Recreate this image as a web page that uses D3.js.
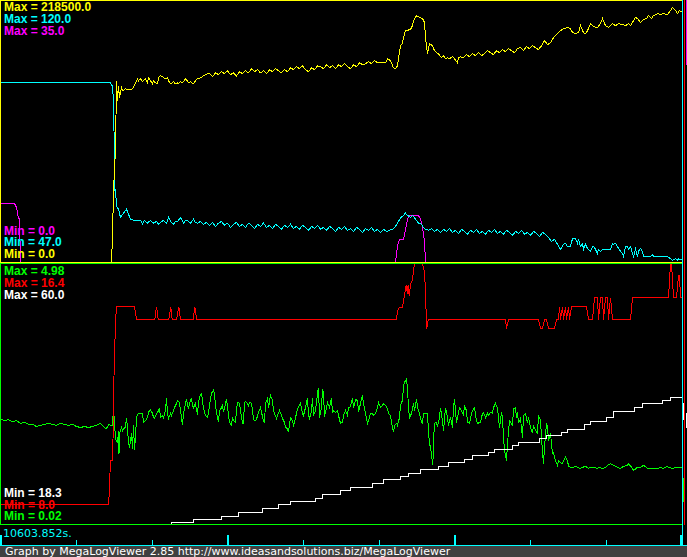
<!DOCTYPE html>
<html><head><meta charset="utf-8">
<script src="https://cdn.jsdelivr.net/npm/d3@7/dist/d3.min.js"></script>
<style>html,body{margin:0;padding:0;background:#000;overflow:hidden}svg{display:block}</style>
</head><body>
<svg id="c" width="687" height="557"></svg>
<script>
// ---------- DATA (time in s, value in channel units) ----------
const timeSpan = [0, 68.2];
const startTimeLabel = "10603.852s.";
const footerText = "Graph by MegaLogViewer 2.85 http://www.ideasandsolutions.biz/MegaLogViewer";
const tickTimes = [0, 7.57, 15.13, 22.7, 30.27, 37.83, 45.4, 52.97, 60.53, 68.1];

const yellowRange = [0, 218500];
const cyanRange = [47, 120];
const magentaRange = [0, 35];
const greenRange = [0.02, 4.98];
const redRange = [8.0, 16.4];
const whiteRange = [18.3, 60.0];

const yellowData = [
[0,0],[11.1,0],[11.2,21900],[11.3,59700],[11.5,95000],[11.6,152100],[11.7,135300],[11.8,147900],[11.9,137800],[12.1,146200],[12.2,143700],[12.5,145400],[12.7,144500],[12.9,144500],[13.2,145400],[13.3,147100],[13.5,150400],[13.7,153800],[13.8,152100],[14.0,153800],[14.2,151300],[14.3,152100],[14.5,153800],[14.7,150400],[14.8,154600],[15.0,152100],[15.2,149600],[15.3,152100],[15.5,150400],[15.7,149600],[15.8,154600],[16.0,156300],[16.2,155500],[16.3,154600],[16.5,153800],[16.7,154600],[16.8,152100],[17.0,149600],[17.2,150400],[17.3,151300],[17.5,149600],[17.7,150400],[17.8,149600],[18.0,151300],[18.2,150400],[18.5,153800],[18.7,152100],[18.8,150400],[19.0,151300],[19.3,149600],[19.5,152100],[19.7,153800],[20.0,154600],[20.3,156300],[20.7,158000],[20.9,158000],
[21.2,155500],[21.5,158800],[21.8,157200],[22.1,159700],[22.4,158000],[22.7,160500],[23.0,157200],[23.3,158800],[23.6,156300],[23.9,159700],[24.2,158000],[24.5,160500],[24.8,158800],[25.1,162200],[25.4,159700],[25.7,161400],[26.0,158800],[26.3,160500],[26.6,158000],[26.9,161400],[27.2,159700],[27.5,162200],[27.8,160500],[28.1,158800],[28.4,161400],[28.7,159700],[29.0,163000],[29.3,161400],[29.6,163900],[29.9,162200],[30.2,164700],[30.5,161400],[30.8,159700],[31.1,163000],[31.4,161400],[31.7,164700],[32.0,163900],[32.3,162200],[32.6,165600],[32.9,163000],[33.2,164700],[33.5,162200],[33.8,165600],[34.1,163900],[34.4,166400],[34.7,163900],[35.0,162200],[35.3,165600],[35.6,163900],[35.9,167200],[36.2,165600],[36.5,166400],[36.8,168100],[37.1,166400],[37.4,168900],[37.7,167200],[38.0,167200],
[38.5,167200],[38.7,170600],[39.0,168900],[39.3,163000],[39.5,162200],[39.7,164700],[39.8,170600],[40.0,181500],[40.2,183200],[40.3,188300],[40.5,194100],[41.0,195000],[41.2,198300],[41.3,202500],[41.6,206700],[41.9,205100],[42.2,204200],[42.4,200900],[42.5,188300],[42.6,181500],[42.7,174800],[42.9,183200],[43.2,181500],[43.4,177300],[43.6,175600],[43.8,174800],[44.1,171400],[44.3,173100],[44.5,170600],[44.7,171400],[44.9,170600],[45.2,172300],[45.4,170600],[45.7,167200],[45.8,171400],[46.0,172300],
[46.3,171400],[46.6,174000],[46.9,172300],[47.2,174800],[47.5,173100],[47.8,175600],[48.1,173100],[48.4,174800],[48.7,177300],[49.0,175600],[49.3,174000],[49.6,177300],[49.9,175600],[50.2,178200],[50.5,176500],[50.8,179000],[51.1,177300],[51.4,175600],[51.7,179000],[52.0,179900],[52.3,177300],[52.6,180700],[52.9,179000],[53.2,181500],[53.5,179900],[53.8,178200],[54.1,181500],[54.4,185700],[54.7,182400],[55.0,184100],[55.3,188300],[55.6,190800],[55.9,193300],
[56.0,194100],[56.3,195800],[56.7,196700],[57.0,195800],[57.2,192500],[57.5,191600],[57.8,192500],[58.0,198300],[58.3,192500],[58.5,191600],[58.7,194100],[59.0,200000],[59.3,197500],[59.7,196700],[60.0,200000],[60.2,204200],[60.5,198300],[60.8,196700],[61.2,200000],[61.5,198300],[61.8,200000],[62.2,199200],[62.5,198300],[62.8,200000],[63.0,198300],[63.3,202500],[63.5,205100],[63.7,204200],[64.0,200900],[64.3,203400],[64.6,204200],[64.8,206700],[65.1,204200],[65.3,206700],[65.7,208400],[66.0,207600],[66.3,208400],[66.7,207600],[67.0,210900],[67.2,213500],[67.5,210900],[67.7,208400],[67.9,210900],[68.2,209300]
];

const cyanData = [
[0,97.3],[11.0,97.3],[11.1,96.7],[11.2,96.4],[11.3,92.2],[11.35,83.8],[11.4,78.2],[11.45,66.9],[11.5,67.5],[11.6,62.7],[11.8,61.9],[12.0,59.6],[12.3,60.8],[12.6,61.9],[12.8,60.5],[13.0,59.1],[13.3,58.8],[14.0,58.8],[14.2,57.7],[14.4,58.8],[14.7,58.0],[15.0,58.8],[15.3,58.0],[15.6,58.5],[15.8,57.7],[16.0,58.2],[16.3,58.8],[16.6,58.0],[16.8,59.6],[17.1,58.2],[17.3,57.7],[17.5,58.5],[17.7,58.5],[18.0,59.6],[18.3,58.0],[18.5,58.8],[18.7,58.8],[19.0,58.0],[19.3,59.1],[19.5,58.2],[19.7,58.0],
[20.0,58.5],[20.3,57.7],[20.6,58.2],[20.9,57.4],[21.2,58.2],[21.5,57.1],[21.8,58.0],[22.1,58.5],[22.4,57.4],[22.7,58.0],[23.0,56.8],[23.3,57.7],[23.6,58.2],[23.9,57.1],[24.2,57.7],[24.5,56.8],[24.8,58.0],[25.1,57.4],[25.4,56.5],[25.7,57.7],[26.0,57.1],[26.3,58.0],[26.6,56.8],[26.9,57.4],[27.2,56.5],[27.5,57.7],[27.8,57.1],[28.1,56.3],[28.4,57.4],[28.7,56.8],[29.0,57.7],[29.3,56.5],[29.6,57.1],[29.9,56.3],[30.2,57.4],[30.5,56.8],[30.8,56.0],[31.1,57.1],[31.4,56.5],[31.7,57.4],[32.0,56.3],[32.3,56.8],[32.6,56.0],[32.9,57.1],[33.2,56.5],[33.5,55.7],[33.8,56.8],[34.1,56.3],[34.4,57.1],[34.7,56.0],[35.0,56.5],[35.3,55.7],[35.6,56.8],[35.9,56.3],[36.2,55.4],[36.5,56.5],[36.8,56.0],[37.1,56.8],[37.4,55.7],[37.7,56.3],[38.0,55.4],[38.3,56.3],[38.6,55.7],[38.9,56.0],
[39.2,56.3],[39.5,57.1],[39.8,58.5],[40.0,59.4],[40.3,60.2],[40.5,60.8],[40.7,60.2],[41.0,59.6],[41.2,60.2],[41.5,59.1],[41.8,58.0],[42.0,58.0],[42.3,56.8],[42.5,56.3],[42.8,56.0],
[43.1,56.5],[43.4,55.7],[43.7,56.3],[44.0,55.4],[44.3,56.3],[44.6,55.7],[44.9,56.5],[45.2,55.4],[45.5,56.0],[45.8,55.1],[46.1,56.3],[46.4,55.7],[46.7,54.9],[47.0,56.0],[47.3,55.4],[47.6,56.3],[47.9,55.1],[48.2,55.7],[48.5,54.9],[48.8,56.0],[49.1,55.4],[49.4,56.3],[49.7,55.1],[50.0,55.7],[50.3,54.9],[50.6,56.0],[50.9,55.4],[51.2,54.6],[51.5,55.7],[51.8,55.1],[52.1,56.0],[52.4,54.9],[52.7,55.4],[53.0,54.6],[53.3,55.7],[53.6,55.1],[53.9,54.3],[54.2,55.4],[54.5,54.9],[54.8,54.0],[55.1,52.9],[55.4,53.5],[55.7,52.1],
[56.0,50.7],[56.3,52.1],[56.5,52.3],[56.7,51.5],[57.0,51.5],[57.2,53.7],[57.5,53.7],[57.7,52.3],[57.8,53.5],[58.0,51.5],[58.2,52.3],[58.3,50.7],[58.5,52.1],[58.7,50.9],[59.0,50.1],[59.2,51.5],[59.3,51.5],[59.5,50.7],[59.7,49.5],[59.8,50.7],[60.0,50.1],[60.2,50.7],[61.0,50.7],[61.2,52.3],[61.3,52.1],[61.5,52.3],[61.7,51.5],[61.8,50.9],[62.2,49.5],[62.3,48.7],[62.5,51.5],[62.7,51.5],[62.8,50.7],[63.0,51.5],[63.2,49.5],[63.3,48.7],[63.5,50.7],[63.7,48.7],[63.8,50.1],[64.0,50.9],[64.2,50.1],[64.3,48.7],[65.0,48.7],[65.2,49.2],[65.3,48.7],[66.7,48.7],[67.2,47.6],[67.3,47.8],[67.5,48.1],[67.7,47.6],[67.8,48.1],[68.0,47.8],[68.2,48.1]
];

const magentaData = [
[0,7.9],[1.4,7.9],[1.6,7.4],[1.8,5.9],[1.9,5.9],[2.0,0],[39.5,0],[39.7,2.2],[39.9,3.1],[40.3,3.1],[40.5,4.4],[40.7,5.8],[40.9,6.3],[41.8,6.3],[42.0,5.8],[42.2,4.8],[42.4,2.8],[42.5,0],[68.2,0]
];

const greenData = [
[0,2.04],[0.4,2.00],[0.8,2.02],[1.2,1.98],[1.6,2.00],[2.0,1.95],[2.4,1.97],[2.8,1.93],[3.2,1.93],[3.6,1.89],[4.0,1.91],[4.4,1.93],[4.8,1.95],[5.2,1.93],[5.6,1.91],[6.0,1.95],[6.4,1.93],[6.8,1.91],[7.2,1.93],[7.6,1.89],[8.0,1.87],[8.4,1.89],[8.8,1.87],[9.2,1.89],[9.6,1.91],[10.0,1.95],[10.3,1.89],[10.5,1.85],[10.7,1.87],[10.8,1.93],[11.0,1.91],[11.2,1.91],
[11.3,2.25],[11.5,1.66],[11.7,1.57],[11.8,1.81],[11.85,1.37],[11.9,1.76],[12.1,1.87],[12.2,1.81],[12.3,1.85],[12.5,1.87],[12.6,2.06],[12.7,1.87],[12.8,1.57],[12.9,1.49],[13.1,1.76],[13.2,1.47],[13.3,1.91],[13.4,1.45],[13.5,1.68],[13.6,2.06],[13.7,2.12],[13.9,2.14],[14.2,2.14],[14.3,1.97],[14.5,2.00],[14.7,2.06],[14.8,2.16],[15.0,2.21],[15.2,2.14],[15.3,2.06],[15.4,2.04],[15.6,2.14],[15.7,2.16],[15.9,2.23],[16.0,2.06],[16.2,2.10],[16.3,2.06],[16.5,2.19],[16.6,2.44],[16.7,2.14],[16.8,2.04],[17.0,2.14],[17.1,2.10],[17.3,2.19],[17.4,2.25],[17.6,2.33],[17.7,2.39],[17.9,2.35],[18.0,2.19],[18.1,2.06],[18.2,1.91],[18.3,2.14],[18.5,2.33],[18.6,2.42],[18.7,2.29],[18.8,2.25],[19.0,2.39],[19.1,2.42],[19.2,2.29],[19.3,2.25],[19.5,2.33],[19.6,2.18],[19.7,2.14],[19.8,2.33],[19.9,2.46],[20.1,2.52],[20.2,2.39],[20.3,2.23],[20.5,2.10],[20.7,2.06],[20.8,2.14],[20.9,2.29],[21.1,2.52],[21.3,2.58],[21.4,2.52],[21.5,2.29],[21.7,2.06],[21.8,1.97],[21.9,2.19],[22.1,2.25],[22.2,2.29],[22.3,2.16],[22.5,2.33],[22.6,2.42],[22.7,2.25],[22.9,1.97],[23.1,1.91],[23.2,2.06],[23.3,2.00],[23.5,1.97],[23.6,2.19],[23.7,2.35],[23.9,2.33],[24.0,2.18],[24.2,1.95],[24.3,1.95],[24.4,2.35],[24.5,2.37],[24.7,2.33],[24.8,2.29],[24.9,2.35],[25.1,2.33],[25.2,2.19],[25.3,2.02],[25.5,2.00],[25.7,2.08],[25.8,2.16],[26.0,2.25],[26.1,2.16],[26.3,2.00],[26.4,1.97],[26.5,2.33],[26.7,2.42],[26.8,2.25],[27.0,2.48],[27.2,2.39],[27.3,2.19],[27.4,2.14],[27.6,2.04],[27.7,2.10],[27.9,2.19],[28.1,2.10],[28.3,2.00],[28.4,1.97],[28.5,1.87],[28.7,1.85],[28.8,1.78],[29.0,2.06],[29.2,2.00],[29.3,1.91],[29.4,1.97],[29.6,2.14],[29.7,2.23],[29.9,2.29],[30.0,2.33],
[30.2,2.14],[30.3,2.10],[30.5,2.25],[30.7,2.44],[30.8,2.10],[30.9,2.04],[31.1,2.19],[31.2,2.44],[31.3,2.10],[31.5,2.19],[31.7,2.52],[31.8,2.63],[31.9,2.06],[32.1,2.25],[32.2,2.61],[32.3,2.52],[32.4,2.08],[32.6,2.25],[32.7,2.35],[32.9,2.25],[33.1,2.44],[33.2,2.14],[33.3,2.19],[33.5,2.16],[33.7,2.19],[33.8,2.10],[34.0,1.95],[34.2,1.97],[34.3,2.10],[34.5,2.19],[34.7,2.10],[34.8,2.25],[35.0,2.27],[35.2,2.44],[35.3,2.25],[35.5,2.40],[35.7,2.39],[35.8,2.16],[36.0,2.33],[36.2,2.48],[36.3,2.33],[36.5,2.14],[36.7,1.95],[36.8,2.00],[37.0,2.14],[37.2,2.14],[37.3,2.10],[37.5,2.14],[37.7,2.25],[37.8,2.35],[38.0,2.25],[38.2,2.29],[38.3,2.33],[38.5,2.29],[38.7,2.23],[38.8,2.14],[39.0,2.10],[39.2,1.87],[39.3,1.78],[39.4,1.91],[39.6,1.95],[39.7,1.91],[39.9,2.06],[40.0,2.29],[40.2,2.39],[40.3,2.67],[40.4,2.73],[40.6,2.79],[40.7,2.61],[40.8,2.25],[40.9,2.06],[41.1,2.14],[41.3,2.33],[41.4,2.19],[41.6,2.42],[41.7,2.25],[41.9,2.14],[42.1,1.97],[42.2,1.95],[42.3,2.14],[42.5,2.14],[42.7,2.14],[42.8,1.78],[42.9,1.58],[43.1,1.37],[43.2,1.16],[43.3,1.37],[43.35,1.78],[43.4,1.95],[43.6,1.97],[43.7,1.89],[43.9,2.06],[44.0,2.25],[44.2,2.00],[44.3,1.81],[44.5,2.25],[44.7,2.06],[44.8,1.91],[45.0,2.06],[45.2,1.87],[45.3,2.25],[45.4,2.42],[45.6,1.95],[45.7,2.06],[45.9,2.25],[46.1,2.19],[46.3,2.10],[46.4,2.29],[46.6,2.19],[46.7,1.97],[46.9,1.95],[47.1,2.14],[47.3,2.23],[47.4,2.25],[47.6,2.00],[47.7,1.95],[48.0,1.97],
[48.2,2.14],[48.3,2.16],[48.5,2.06],[48.7,2.14],[48.8,2.10],[49.0,2.16],[49.2,2.14],[49.3,2.25],[49.5,2.33],[49.7,2.23],[49.8,2.06],[49.9,1.87],[50.1,2.16],[50.2,2.06],[50.3,1.68],[50.4,1.43],[50.6,1.24],[50.7,1.57],[50.9,2.00],[51.0,1.97],[51.2,1.91],[51.3,2.23],[51.5,2.25],[51.6,2.06],[51.7,2.16],[51.8,1.95],[52.0,2.04],[52.2,1.68],[52.3,2.10],[52.5,2.14],[52.7,1.95],[52.8,2.06],[53.0,1.87],[53.2,1.76],[53.3,1.91],[53.5,1.81],[53.7,1.76],[53.8,2.10],[54.0,2.00],[54.2,1.39],[54.3,1.18],[54.4,1.49],[54.6,1.95],[54.7,1.87],[54.8,1.62],[55.0,1.76],[55.2,1.37],[55.3,1.39],[55.5,1.24],[55.7,1.15],[55.8,1.24],[56.0,1.20],[56.2,1.18],[56.3,1.24],[56.5,1.30],[56.7,1.24],[56.8,1.13],[57.0,1.11],[57.3,1.11],[57.5,1.13],[57.7,1.11],[58.0,1.09],[58.2,1.11],[58.5,1.13],[58.8,1.09],[59.0,1.11],[59.3,1.11],[59.7,1.09],[59.8,1.11],[60.2,1.09],[60.5,1.11],[60.8,1.16],[61.0,1.18],[61.3,1.15],[61.7,1.11],[62.0,1.09],[62.3,1.13],[62.7,1.15],[62.8,1.18],[63.2,1.09],[63.3,1.05],[63.7,1.11],[64.0,1.11],[64.3,1.15],[64.7,1.09],[65.0,1.09],[65.7,1.09],[66.0,1.11],[66.3,1.09],[66.7,1.13],[66.8,1.11],[67.2,1.09],[67.5,1.11],[67.8,1.11],[68.2,1.11]
];

const redData = [
[0,8.65],[10.8,8.65],[10.9,9.10],[10.95,9.66],[11.0,10.07],[11.2,10.07],[11.25,10.71],[11.3,12.17],[11.4,13.40],[11.5,14.53],[11.6,15.04],[13.4,15.04],[13.6,14.62],[15.43,14.62],[15.6,15.04],[15.77,14.62],[16.83,14.62],[17.03,15.04],[17.17,14.62],[17.6,14.62],[17.83,15.04],[18.0,14.62],[19.27,14.62],[19.43,15.04],[19.63,14.62],
[39.6,14.62],[39.7,14.91],[39.9,15.01],[40.2,15.01],[40.3,15.24],[40.4,15.40],[40.5,15.62],[40.6,15.75],[40.67,15.46],[40.77,15.75],[40.87,15.37],[41.0,15.75],[41.2,15.92],[41.4,16.43],[42.2,16.43],[42.4,16.14],[42.5,15.56],[42.57,14.75],[42.63,14.33],[42.7,14.53],[42.83,14.62],
[50.5,14.62],[50.6,14.33],[50.8,14.62],[53.8,14.62],[54.0,14.33],[54.2,14.33],[54.4,14.62],[54.6,14.62],[54.8,14.33],[55.4,14.33],[55.6,14.62],[55.8,14.62],[55.9,15.04],[56.0,14.62],[56.2,15.04],[56.3,14.62],[56.5,15.04],[56.6,14.62],[56.8,15.04],[56.9,14.62],[57.1,15.04],[58.6,15.04],[58.8,14.62],[59.2,14.62],[59.4,15.33],[59.7,15.33],[59.8,14.62],[60.0,15.33],[60.2,15.33],[60.3,14.62],[60.5,15.33],[60.7,15.33],[60.8,14.62],[61.0,15.33],[61.2,14.62],[63.0,14.62],[63.2,15.33],[66.8,15.33],[67.0,16.43],[67.1,16.43],[67.3,15.33],[67.6,15.33],[67.8,16.04],[67.9,16.04],[68.0,15.33],[68.1,15.33]
];

const whiteData = [
[0,18.3],[17.1,18.62],[19.3,19.10],[22.1,19.58],[23.8,20.3],[26.2,20.87],[27.8,21.51],[29.0,21.99],[31.5,22.47],[32.2,23.11],[34.0,23.75],[35.0,24.23],[37.2,24.88],[38.3,25.52],[40.0,26.0],[40.8,26.48],[42.0,27.12],[43.8,27.6],[44.8,28.24],[46.4,28.72],[47.2,29.37],[48.8,29.85],[49.4,30.33],[51.2,30.97],[51.8,31.45],[53.9,32.09],[54.6,32.57],[56.1,33.05],[56.7,33.54],[58.4,34.34],[59.0,34.82],[60.6,35.46],[61.3,36.4],[63.4,37.06],[64.2,37.71],[66.2,38.19],[67.0,38.67],[68.2,38.67]
];

// ---------- DRAW ----------
const W = 687, H = 557;
const svg = d3.select('#c');
svg.append('rect').attr('width', W).attr('height', H).attr('fill', '#000');

const x = d3.scaleLinear().domain(timeSpan).range([0.5, 682.5]);
const topY = r => d3.scaleLinear().domain(r).range([262.5, 1.5]);
const botY = r => d3.scaleLinear().domain(r).range([524.5, 264.5]);

function trace(data, yScale, color, curve) {
  const line = d3.line().x(d => x(d[0])).y(d => yScale(d[1])).curve(curve || d3.curveLinear);
  svg.append('path').attr('d', line(data)).attr('fill', 'none')
    .attr('stroke', color).attr('stroke-width', 1)
    .attr('shape-rendering', 'crispEdges');
}

// top panel traces
trace(magentaData, topY(magentaRange), '#ff00ff');
trace(cyanData, topY(cyanRange), '#00ffff');
trace(yellowData, topY(yellowRange), '#ffff00');
// bottom panel traces
trace(greenData, botY(greenRange), '#00ff00');
trace(whiteData, botY(whiteRange), '#ffffff', d3.curveStepAfter);
trace(redData, botY(redRange), '#ff0000');

function hline(y, x0, x1, c) { svg.append('line').attr('x1', x0).attr('x2', x1).attr('y1', y).attr('y2', y).attr('stroke', c).attr('shape-rendering','crispEdges'); }
function vline(xx, y0, y1, c) { svg.append('line').attr('x1', xx).attr('x2', xx).attr('y1', y0).attr('y2', y1).attr('stroke', c).attr('shape-rendering','crispEdges'); }

// panel borders
hline(0.5, 0, 683, '#ffff00');
vline(0.5, 0, 263, '#ffff00');
hline(262.5, 0, 683, '#ffff00');
hline(263.5, 0, 683, '#00ff00');
vline(0.5, 263, 525, '#00ff00');
hline(524.5, 0, 683, '#00ff00');

// cursor / right edge markers
vline(682.5, 0, 545, '#00ffff');
vline(684.5, 0, 525, '#ff0000');
vline(686.5, 0, 65, '#ff00ff');
vline(683.5, 403, 420, '#ffffff');
vline(686.5, 413, 428, '#ffffff');
vline(683.5, 478, 502, '#00ff00');

// axis strip
hline(545.5, 0, 687, '#00ffff');
tickTimes.forEach((t, i) => {
  const major = i % 3 === 0;
  const xx = Math.round(x(t));
  svg.append('rect').attr('x', major ? xx - 1 : xx).attr('y', major ? 535 : 540)
    .attr('width', major ? 2 : 1).attr('height', major ? 10 : 5).attr('fill', '#00ffff');
});
svg.append('text').attr('x', 3).attr('y', 537).attr('fill', '#00ffff')
  .attr('font-family', 'DejaVu Sans, sans-serif').attr('font-size', 11)
  .text(startTimeLabel);

// footer
svg.append('rect').attr('x', 0).attr('y', 546).attr('width', W).attr('height', 11).attr('fill', '#404040');
svg.append('text').attr('x', 5).attr('y', 554.5).attr('fill', '#ffffff')
  .attr('font-family', 'DejaVu Sans, sans-serif').attr('font-size', 11)
  .text(footerText);

// labels
const fmt1 = v => v.toFixed(1), fmt2 = v => v.toFixed(2);
const labels = [
  ['Max = ' + fmt1(yellowRange[1]), '#ffff00', 11],
  ['Max = ' + fmt1(cyanRange[1]), '#00ffff', 23],
  ['Max = ' + fmt1(magentaRange[1]), '#ff00ff', 35],
  ['Min = ' + fmt1(magentaRange[0]), '#ff00ff', 234.5],
  ['Min = ' + fmt1(cyanRange[0]), '#00ffff', 246],
  ['Min = ' + fmt1(yellowRange[0]), '#ffff00', 257.5],
  ['Max = ' + fmt2(greenRange[1]), '#00ff00', 274.5],
  ['Max = ' + fmt1(redRange[1]), '#ff0000', 286.5],
  ['Max = ' + fmt1(whiteRange[1]), '#ffffff', 298.5],
  ['Min = ' + fmt1(whiteRange[0]), '#ffffff', 496.5],
  ['Min = ' + fmt1(redRange[0]), '#ff0000', 508.5],
  ['Min = ' + fmt2(greenRange[0]), '#00ff00', 520]
];
labels.forEach(l => {
  svg.append('text').attr('x', 4).attr('y', l[2]).attr('fill', l[1])
    .attr('font-family', 'Liberation Sans, Arial, sans-serif').attr('font-weight', 'bold')
    .attr('font-size', 12).text(l[0]);
});
</script>
</body></html>
